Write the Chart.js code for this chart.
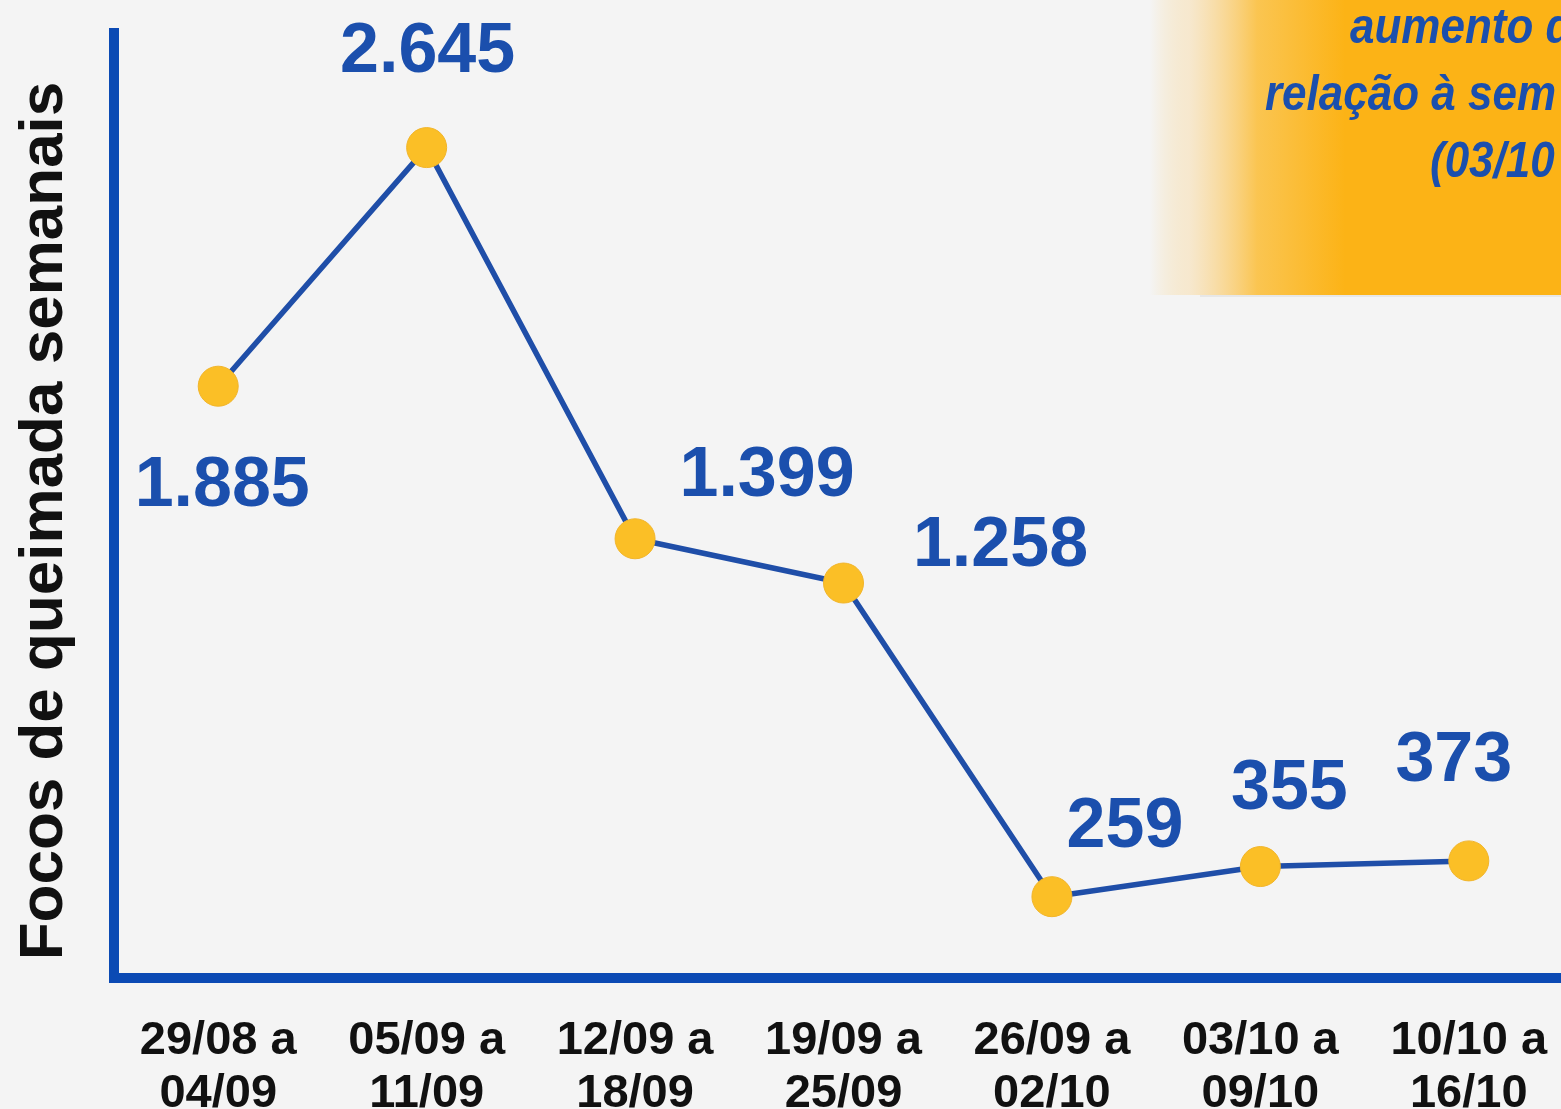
<!DOCTYPE html>
<html>
<head>
<meta charset="utf-8">
<script src="https://cdn.jsdelivr.net/npm/chart.js@4/dist/chart.umd.min.js"></script>
<style>
  html, body { margin: 0; padding: 0; overflow: hidden; background: #f4f4f4; }
  canvas { display: block; }
</style>
</head>
<body>
<canvas id="c" width="1594" height="1109" style="width:1594px;height:1109px"></canvas>
<script>
// ---- data ----
const weekStart = ['29/08 a', '05/09 a', '12/09 a', '19/09 a', '26/09 a', '03/10 a', '10/10 a'];
const weekEnd   = ['04/09', '11/09', '18/09', '25/09', '02/10', '09/10', '16/10'];
const fireCounts = [1885, 2645, 1399, 1258, 259, 355, 373];
const yAxisTitle = 'Focos de queimada semanais';
const noteLines = ['aumento d', 'relação à sem', '(03/10'];
const yMax = 3010;

// ---- styles ----
const BLUE_AXIS = '#0b4ab4';
const BLUE_LINE = '#1f4ea8';
const BLUE_TEXT = '#1b4fad';
const YELLOW = '#fbbf26';
// label offsets (dx, dy to baseline) from each point, in px
const labelOffsets = [[4, 120], [1, -76], [132, -43], [157, -17], [73, -50], [29, -58], [-15, -80]];

function fmt(n) { return String(n).replace(/\B(?=(\d{3})+(?!\d))/g, '.'); }

const decor = {
  id: 'decor',
  beforeDraw(chart) {
    const ctx = chart.ctx;
    ctx.save();
    ctx.fillStyle = '#f4f4f4';
    ctx.fillRect(0, 0, chart.width, chart.height);
    // orange note box
    const g = ctx.createLinearGradient(1150, 0, 1345, 0);
    g.addColorStop(0, 'rgba(252,179,22,0)');
    g.addColorStop(0.2, 'rgba(252,205,120,0.3)');
    g.addColorStop(0.55, 'rgba(252,185,40,0.8)');
    g.addColorStop(1, '#fcb316');
    ctx.fillStyle = g;
    ctx.fillRect(1150, 0, chart.width - 1150, 295);
    ctx.fillStyle = 'rgba(0,0,0,0.05)';
    ctx.fillRect(1200, 295, chart.width - 1200, 2);
    ctx.fillStyle = BLUE_TEXT;
    ctx.font = 'italic bold 50px "Liberation Sans", Arial, sans-serif';
    ctx.textBaseline = 'alphabetic';
    ctx.textAlign = 'left';
    const xs = [1350, 1265, 1430];
    const ys = [43, 110, 177];
    noteLines.forEach((t, i) => {
      ctx.save();
      ctx.translate(xs[i], ys[i]);
      ctx.scale(0.88, 1);
      ctx.fillText(t, 0, 0);
      ctx.restore();
    });
    // y axis title
    ctx.save();
    ctx.translate(62, 521);
    ctx.rotate(-Math.PI / 2);
    ctx.fillStyle = '#111111';
    ctx.font = 'bold 62px "Liberation Sans", Arial, sans-serif';
    ctx.textAlign = 'center';
    ctx.textBaseline = 'alphabetic';
    ctx.fillText(yAxisTitle, 0, 0);
    ctx.restore();
    ctx.restore();
  },
  afterDraw(chart) {
    const ctx = chart.ctx;
    const a = chart.chartArea;
    ctx.save();
    ctx.fillStyle = BLUE_AXIS;
    ctx.fillRect(a.left - 5, a.bottom - 5, 10, 10);
    ctx.restore();
  },
  afterDatasetsDraw(chart) {
    const ctx = chart.ctx;
    const meta = chart.getDatasetMeta(0);
    ctx.save();
    ctx.fillStyle = BLUE_TEXT;
    ctx.font = 'bold 70px "Liberation Sans", Arial, sans-serif';
    ctx.textAlign = 'center';
    ctx.textBaseline = 'alphabetic';
    meta.data.forEach((pt, i) => {
      const o = labelOffsets[i];
      ctx.fillText(fmt(fireCounts[i]), pt.x + o[0], pt.y + o[1]);
    });
    ctx.restore();
  }
};

new Chart(document.getElementById('c'), {
  type: 'line',
  data: {
    labels: weekStart.map((s, i) => [s, weekEnd[i]]),
    datasets: [{
      data: fireCounts,
      borderColor: BLUE_LINE,
      borderWidth: 5.5,
      pointRadius: 20,
      pointHoverRadius: 20,
      pointBackgroundColor: YELLOW,
      pointBorderColor: '#f2b52a',
      pointBorderWidth: 1,
      tension: 0,
      clip: false
    }]
  },
  options: {
    responsive: false,
    maintainAspectRatio: false,
    devicePixelRatio: 1,
    animation: false,
    events: [],
    layout: { padding: { top: 33, left: 0, right: 0, bottom: 0 } },
    plugins: { legend: { display: false }, tooltip: { enabled: false } },
    scales: {
      x: {
        offset: true,
        grid: { display: false },
        border: { display: true, color: BLUE_AXIS, width: 10 },
        ticks: {
          color: '#111111',
          font: { family: '"Liberation Sans", Arial, sans-serif', size: 47, weight: 'bold', lineHeight: 1.13 },
          padding: 28,
          maxRotation: 0,
          autoSkip: false
        },
        afterFit(scale) { scale.height = 131; scale.paddingLeft = 0; scale.paddingRight = 0; }
      },
      y: {
        min: 0,
        max: yMax,
        grid: { display: false },
        border: { display: true, color: BLUE_AXIS, width: 10 },
        ticks: { display: false },
        afterFit(scale) { scale.width = 114; scale.paddingTop = 0; scale.paddingBottom = 0; }
      }
    }
  },
  plugins: [decor]
});
</script>
</body>
</html>
